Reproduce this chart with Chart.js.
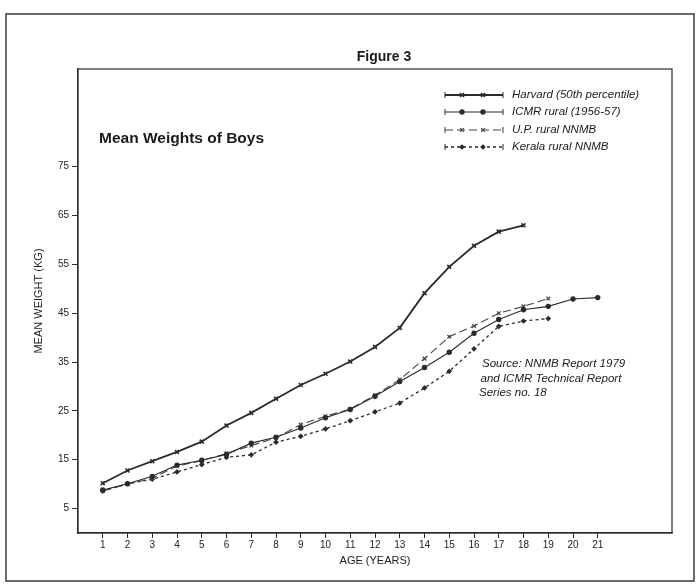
<!DOCTYPE html>
<html>
<head>
<meta charset="utf-8">
<script src="https://cdn.jsdelivr.net/npm/chart.js@4"></script>
<style>
html, body { margin: 0; padding: 0; background: #fff; }
</style>
</head>
<body>
<canvas id="myChart" width="696" height="584"></canvas>
<script>
// Data (age in years, mean weight in kg)
const ages = [1, 2, 3, 4, 5, 6, 7, 8, 9, 10, 11, 12, 13, 14, 15, 16, 17, 18, 19, 20, 21];
const harvard = [10.2, 12.8, 14.7, 16.6, 18.7, 22.0, 24.6, 27.5, 30.3, 32.6, 35.1, 38.1, 42.0, 49.1, 54.5, 58.8, 61.7, 63.0];
const icmr = [8.8, 10.1, 11.6, 13.9, 14.9, 16.1, 18.4, 19.6, 21.5, 23.6, 25.3, 28.0, 31.0, 33.9, 37.0, 40.9, 43.7, 45.7, 46.4, 47.9, 48.2];
const upRural = [8.6, 10.0, 11.2, 13.7, 14.8, 16.3, 17.9, 19.5, 22.2, 23.9, 25.4, 28.2, 31.4, 35.7, 40.2, 42.4, 45.0, 46.4, 48.0];
const kerala = [8.6, 10.1, 11.0, 12.5, 14.0, 15.5, 16.0, 18.6, 19.8, 21.3, 23.0, 24.8, 26.6, 29.7, 33.1, 37.7, 42.3, 43.4, 43.9];
const seriesNames = ['Harvard (50th percentile)', 'ICMR rural (1956-57)', 'U.P. rural NNMB', 'Kerala rural NNMB'];
const xTickValues = [1, 2, 3, 4, 5, 6, 7, 8, 9, 10, 11, 12, 13, 14, 15, 16, 17, 18, 19, 20, 21];
const yTickValues = [5, 15, 25, 35, 45, 55, 65, 75];
const sourceLines = ['Source: NNMB Report 1979', 'and ICMR Technical Report', 'Series no. 18'];

const ink = '#2b2b2b';
const FONT = '"Liberation Sans", Arial, Helvetica, sans-serif';

// turn a value list into x/y points
function toPoints(values) {
    return values.map((v, i) => ({ x: ages[i], y: v }));
}

// draw one legend marker
function drawMarker(ctx, ds, x, y) {
    ctx.save();
    ctx.strokeStyle = ds.borderColor;
    ctx.fillStyle = ds.pointBackgroundColor;
    ctx.lineWidth = ds.pointBorderWidth;
    Chart.helpers.drawPoint(ctx, {
        pointStyle: ds.pointStyle,
        radius: ds.pointRadius,
        rotation: 0,
        borderWidth: ds.pointBorderWidth
    }, x, y);
    ctx.restore();
}

const decor = {
    id: 'decor',
    beforeDraw(chart) {
        const ctx = chart.ctx;
        ctx.save();
        ctx.fillStyle = '#fff';
        ctx.fillRect(0, 0, chart.width, chart.height);
        // outer frame of the page
        ctx.strokeStyle = '#3a3a3a';
        ctx.lineWidth = 1.5;
        ctx.strokeRect(6, 14, 688, 567);
        ctx.restore();
    },
    afterDraw(chart) {
        const ctx = chart.ctx;
        const a = chart.chartArea;
        ctx.save();
        // box round the plot
        ctx.strokeStyle = ink;
        ctx.lineWidth = 1.2;
        ctx.strokeRect(a.left, a.top, a.right - a.left, a.bottom - a.top);

        ctx.fillStyle = '#1a1a1a';
        ctx.textBaseline = 'middle';
        ctx.textAlign = 'center';
        ctx.font = 'bold 14px ' + FONT;
        ctx.fillText('Figure 3', 384, 57);

        ctx.textAlign = 'left';
        ctx.font = 'bold 15.5px ' + FONT;
        ctx.fillText('Mean Weights of Boys', 99, 139);

        ctx.font = 'italic 11.5px ' + FONT;
        sourceLines.forEach((t, i) => {
            ctx.fillText(t, 482 - i * 1.5, 364 + i * 14.5);
        });

        // legend
        const rows = [95, 112, 130, 147];
        chart.data.datasets.forEach((ds, i) => {
            const y = rows[i];
            ctx.save();
            ctx.strokeStyle = ds.borderColor;
            ctx.lineWidth = ds.borderWidth;
            ctx.setLineDash(ds.borderDash || []);
            ctx.beginPath();
            ctx.moveTo(445, y);
            ctx.lineTo(503, y);
            ctx.stroke();
            ctx.setLineDash([]);
            ctx.lineWidth = 1;
            ctx.beginPath();
            ctx.moveTo(445, y - 3);
            ctx.lineTo(445, y + 3);
            ctx.moveTo(503, y - 3);
            ctx.lineTo(503, y + 3);
            ctx.stroke();
            ctx.restore();
            drawMarker(ctx, ds, 462, y);
            drawMarker(ctx, ds, 483, y);
            ctx.fillStyle = '#1a1a1a';
            ctx.font = 'italic 11.5px ' + FONT;
            ctx.fillText(seriesNames[i], 512, y);
        });
        ctx.restore();
    }
};

function makeDataset(label, values, opts) {
    return Object.assign({
        label: label,
        data: toPoints(values),
        borderColor: ink,
        pointBackgroundColor: ink,
        pointBorderColor: ink,
        borderWidth: 1.2,
        pointBorderWidth: 1.2,
        pointRadius: 2,
        tension: 0
    }, opts);
}

const ctx = document.getElementById('myChart').getContext('2d');
const chart = new Chart(ctx, {
    type: 'line',
    data: {
        datasets: [
            makeDataset(seriesNames[0], harvard, { borderWidth: 1.8, pointStyle: 'crossRot', pointRadius: 2.8, pointBorderWidth: 1.6 }),
            makeDataset(seriesNames[1], icmr, { borderWidth: 1.1, pointStyle: 'circle', pointRadius: 2.1 }),
            makeDataset(seriesNames[2], upRural, { borderColor: '#4a3f44', pointBorderColor: '#4a3f44', pointBackgroundColor: '#4a3f44', borderWidth: 1.1, borderDash: [8, 4], pointStyle: 'crossRot', pointRadius: 2.6 }),
            makeDataset(seriesNames[3], kerala, { borderWidth: 1.3, borderDash: [3, 3], pointStyle: 'rectRot', pointRadius: 2 })
        ]
    },
    options: {
        responsive: false,
        animation: false,
        devicePixelRatio: 1,
        layout: { padding: { top: 69, right: 24, bottom: 16, left: 32 } },
        plugins: {
            legend: { display: false },
            tooltip: { enabled: false }
        },
        scales: {
            x: {
                type: 'linear',
                min: 0,
                max: 24,
                afterBuildTicks: s => { s.ticks = xTickValues.map(v => ({ value: v })); },
                afterFit: s => { s.height = 35; },
                grid: { drawOnChartArea: false, drawTicks: true, tickLength: 5, color: ink },
                border: { color: ink, width: 1.2 },
                ticks: { color: '#222', font: { family: FONT, size: 10 }, padding: 1, maxRotation: 0, autoSkip: false },
                title: { display: true, text: 'AGE (YEARS)', color: '#222', font: { family: FONT, size: 11 }, padding: 0 }
            },
            y: {
                min: 0,
                max: 95,
                afterBuildTicks: s => { s.ticks = yTickValues.map(v => ({ value: v })); },
                afterFit: s => { s.width = 46; },
                grid: { drawOnChartArea: false, drawTicks: true, tickLength: 6, color: ink },
                border: { color: ink, width: 1.2 },
                ticks: { color: '#222', font: { family: FONT, size: 10 }, padding: 3, autoSkip: false },
                title: { display: true, text: 'MEAN WEIGHT (KG)', color: '#222', font: { family: FONT, size: 11 }, padding: 0 }
            }
        }
    },
    plugins: [decor]
});
</script>
</body>
</html>
